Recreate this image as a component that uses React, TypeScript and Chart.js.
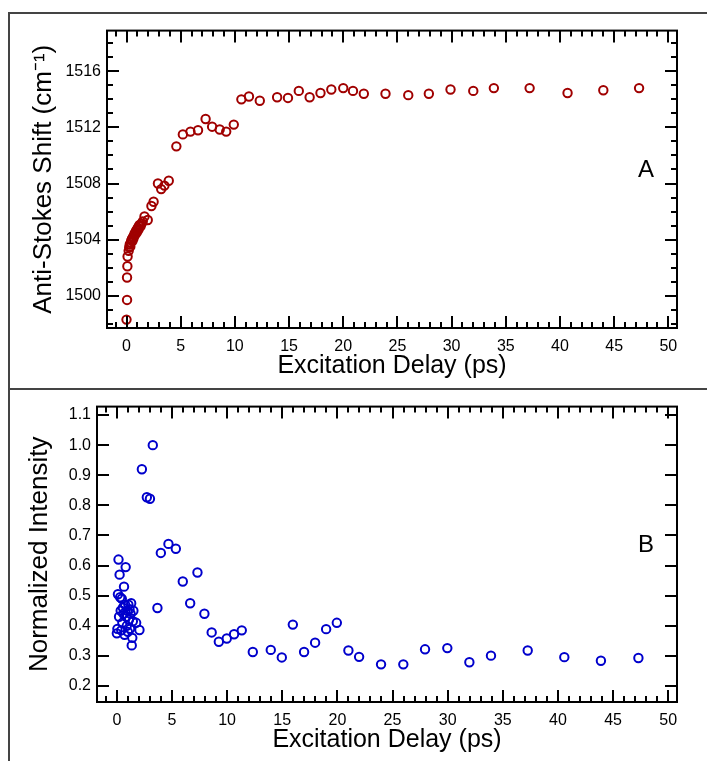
import React, { useEffect, useRef } from "react";
import { Chart, registerables } from "chart.js";
Chart.register(...registerables);

// ---- Data (panel A: Anti-Stokes shift) ----
const shiftDelays = [
  0.0, 0.05, 0.05, 0.08, 0.1, 0.2, 0.25, 0.3, 0.35, 0.4, 0.45, 0.5, 0.55, 0.6, 0.65, 0.7, 0.75, 0.8,
  0.85, 0.9, 0.95, 1.0, 1.05, 1.1, 1.15, 1.2, 1.3, 1.4, 1.5, 1.66, 1.96, 2.3, 2.5, 2.9, 3.2, 3.5, 3.9,
  4.6, 5.2, 5.9, 6.6, 7.3, 7.9, 8.6, 9.2, 9.9, 10.6, 11.3, 12.3, 13.9, 14.9, 15.9, 16.9, 17.9, 18.9,
  20.0, 20.9, 21.9, 23.9, 26.0, 27.9, 29.9, 32.0, 33.9, 37.2, 40.7, 44.0, 47.3,
];
const shiftValues = [
  1498.3, 1499.7, 1501.3, 1502.1, 1502.8, 1503.2, 1503.45, 1503.65, 1503.5, 1503.8, 1503.95, 1504.05,
  1503.9, 1504.2, 1504.1, 1504.3, 1504.45, 1504.35, 1504.55, 1504.65, 1504.5, 1504.75, 1504.85, 1504.7,
  1504.95, 1505.05, 1504.95, 1505.15, 1505.3, 1505.65, 1505.4, 1506.4, 1506.7, 1508.0, 1507.6, 1507.85,
  1508.2, 1510.65, 1511.5, 1511.7, 1511.8, 1512.6, 1512.05, 1511.85, 1511.7, 1512.2, 1514.0, 1514.2,
  1513.9, 1514.15, 1514.1, 1514.6, 1514.15, 1514.45, 1514.7, 1514.8, 1514.6, 1514.4, 1514.4, 1514.3,
  1514.4, 1514.7, 1514.6, 1514.8, 1514.8, 1514.45, 1514.65, 1514.8,
];

// ---- Data (panel B: normalized intensity) ----
const intensityDelays = [
  0.0, 0.05, 0.1, 0.15, 0.2, 0.25, 0.3, 0.35, 0.4, 0.45, 0.5, 0.55, 0.6, 0.65, 0.7, 0.75, 0.8, 0.85,
  0.9, 0.95, 1.0, 1.05, 1.1, 1.15, 1.2, 1.25, 1.3, 1.35, 1.4, 1.45, 1.5, 1.75, 2.05, 2.27, 2.72, 3.0,
  3.26, 3.68, 3.99, 4.68, 5.35, 5.98, 6.65, 7.31, 7.94, 8.6, 9.25, 9.97, 10.63, 11.33, 12.33, 13.96,
  14.96, 15.96, 16.98, 17.98, 18.98, 19.95, 21.0, 21.97, 23.96, 25.98, 27.95, 29.97, 31.97, 33.93,
  37.26, 40.58, 43.9, 47.3,
];
const intensityValues = [
  0.375, 0.39, 0.505, 0.62, 0.43, 0.57, 0.495, 0.45, 0.385, 0.49, 0.41, 0.46, 0.44, 0.53, 0.37, 0.47,
  0.595, 0.43, 0.4, 0.45, 0.38, 0.47, 0.42, 0.455, 0.39, 0.44, 0.475, 0.335, 0.36, 0.415, 0.45, 0.41,
  0.386, 0.92, 0.827, 0.822, 1.0, 0.459, 0.642, 0.672, 0.656, 0.547, 0.475, 0.577, 0.44, 0.378, 0.347,
  0.358, 0.372, 0.385, 0.313, 0.32, 0.295, 0.404, 0.313, 0.344, 0.389, 0.41, 0.318, 0.297, 0.272,
  0.272, 0.322, 0.326, 0.279, 0.301, 0.318, 0.296, 0.284, 0.293,
];

// ---- Tick labels ----
const delayTicks = [0, 5, 10, 15, 20, 25, 30, 35, 40, 45, 50];
const shiftTicks = [1500, 1504, 1508, 1512, 1516];
const intensityTicks = [0.2, 0.3, 0.4, 0.5, 0.6, 0.7, 0.8, 0.9, 1.0, 1.1];

const FONT = "'Liberation Sans', Arial, sans-serif";

type PanelProps = {
  left: number;
  top: number;
  width: number;
  height: number;
  xs: number[];
  ys: number[];
  color: string;
  yMin: number;
  yMax: number;
  yTicks: number[];
  yDecimals: number;
  yMinor: number;
  yMajor: number;
  yTitle: string;
  yAxisWidth: number;
  yTitlePad: number;
  padTop: number;
  letter: string;
};

function makeFramePlugin(p: PanelProps) {
  return {
    id: "frameTicks",
    afterDraw(chart: any) {
      const { ctx, chartArea: a } = chart;
      const x = chart.scales.x;
      const y = chart.scales.y;
      ctx.save();
      ctx.strokeStyle = "#000";
      ctx.lineWidth = 2;
      ctx.strokeRect(a.left, a.top, a.right - a.left, a.bottom - a.top);
      ctx.beginPath();
      const xStep = 1;
      for (let i = Math.ceil(x.min / xStep - 1e-9); i * xStep <= x.max + 1e-9; i++) {
        const v = i * xStep;
        const px = Math.round(x.getPixelForValue(v));
        const len = i % 5 === 0 ? 12 : 6;
        ctx.moveTo(px, a.bottom);
        ctx.lineTo(px, a.bottom - len);
        ctx.moveTo(px, a.top);
        ctx.lineTo(px, a.top + len);
      }
      const ratio = Math.round(p.yMajor / p.yMinor);
      for (let i = Math.ceil(y.min / p.yMinor - 1e-9); i * p.yMinor <= y.max + 1e-9; i++) {
        const v = i * p.yMinor;
        const py = Math.round(y.getPixelForValue(v));
        const len = i % ratio === 0 ? 12 : 6;
        ctx.moveTo(a.left, py);
        ctx.lineTo(a.left + len, py);
        ctx.moveTo(a.right, py);
        ctx.lineTo(a.right - len, py);
      }
      ctx.stroke();
      ctx.fillStyle = "#000";
      ctx.font = `24px ${FONT}`;
      ctx.textAlign = "center";
      ctx.textBaseline = "middle";
      ctx.fillText(p.letter, a.right - 31, a.top + (a.bottom - a.top) * 0.47);
      ctx.restore();
    },
  };
}

function Panel(p: PanelProps) {
  const ref = useRef<HTMLCanvasElement | null>(null);
  useEffect(() => {
    if (!ref.current) return;
    const chart = new Chart(ref.current, {
      type: "scatter",
      data: {
        datasets: [
          {
            data: p.xs.map((v, i) => ({ x: v, y: p.ys[i] })),
            showLine: false,
            pointStyle: "circle",
            pointRadius: 4.2,
            pointBorderWidth: 2,
            borderColor: p.color,
            pointBorderColor: p.color,
            backgroundColor: "rgba(0,0,0,0)",
            pointBackgroundColor: "rgba(0,0,0,0)",
          },
        ],
      },
      options: {
        responsive: false,
        animation: false,
        devicePixelRatio: 1,
        events: [],
        layout: { padding: { left: 0, right: 30, top: p.padTop, bottom: 0 } },
        plugins: { legend: { display: false }, tooltip: { enabled: false } },
        scales: {
          x: {
            type: "linear",
            min: -1.8,
            max: 50.8,
            afterBuildTicks: (s: any) => {
              s.ticks = delayTicks.map((v) => ({ value: v }));
            },
            afterFit: (s: any) => {
              s.height = 59;
            },
            grid: { display: false, drawTicks: false },
            border: { display: false },
            ticks: {
              color: "#000",
              font: { family: FONT, size: 16 },
              padding: 9,
              maxRotation: 0,
              autoSkip: false,
              callback: (v: any) => String(v),
            },
            title: {
              display: true,
              text: "Excitation Delay (ps)",
              color: "#000",
              font: { family: FONT, size: 25, lineHeight: 1 },
              padding: { top: 0, bottom: 8 },
            },
          },
          y: {
            type: "linear",
            min: p.yMin,
            max: p.yMax,
            afterBuildTicks: (s: any) => {
              s.ticks = p.yTicks.map((v) => ({ value: v }));
            },
            afterFit: (s: any) => {
              s.width = p.yAxisWidth;
            },
            grid: { display: false, drawTicks: false },
            border: { display: false },
            ticks: {
              color: "#000",
              font: { family: FONT, size: 16 },
              padding: 6,
              autoSkip: false,
              callback: (v: any) => Number(v).toFixed(p.yDecimals),
            },
            title: {
              display: true,
              text: p.yTitle,
              color: "#000",
              font: { family: FONT, size: 26, lineHeight: 1 },
              padding: { top: p.yTitlePad, bottom: 0 },
            },
          },
        },
      },
      plugins: [makeFramePlugin(p)],
    } as any);
    return () => chart.destroy();
  }, []);
  return (
    <canvas
      ref={ref}
      width={p.width}
      height={p.height}
      style={{ position: "absolute", left: p.left, top: p.top, width: p.width, height: p.height }}
    />
  );
}

export default function App() {
  const line = "#444";
  return (
    <div>
      <div style={{ position: "absolute", left: 8, top: 12, width: 2, height: 749, background: line }} />
      <div style={{ position: "absolute", left: 8, top: 12, width: 699, height: 2, background: line }} />
      <div style={{ position: "absolute", left: 8, top: 388, width: 699, height: 2, background: line }} />
      <Panel
        left={10}
        top={15}
        width={697}
        height={372}
        xs={shiftDelays}
        ys={shiftValues}
        color="rgb(160,0,0)"
        yMin={1497.7}
        yMax={1518.9}
        yTicks={shiftTicks}
        yDecimals={0}
        yMinor={1}
        yMajor={4}
        yTitle="Anti-Stokes Shift (cm⁻¹)"
        yAxisWidth={97}
        yTitlePad={21}
        padTop={10}
        letter="A"
      />
      <Panel
        left={10}
        top={391}
        width={697}
        height={370}
        xs={intensityDelays}
        ys={intensityValues}
        color="rgb(0,0,204)"
        yMin={0.147}
        yMax={1.128}
        yTicks={intensityTicks}
        yDecimals={1}
        yMinor={0.1}
        yMajor={0.1}
        yTitle="Normalized Intensity"
        yAxisWidth={87}
        yTitlePad={17}
        padTop={12}
        letter="B"
      />
    </div>
  );
}
